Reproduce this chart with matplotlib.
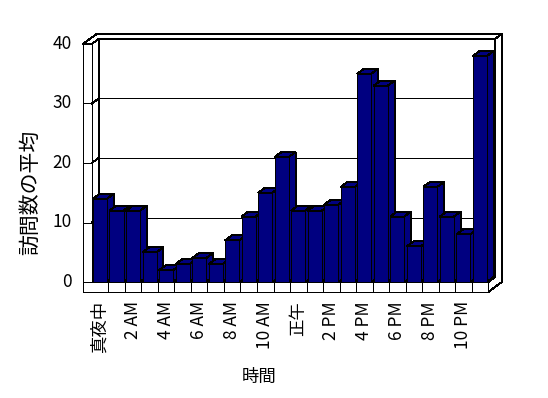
import matplotlib.pyplot as plt
from matplotlib.patches import Polygon

plt.rcParams['font.family'] = ['Noto Sans CJK JP', 'DejaVu Sans']

# data
visits = [14, 12, 12, 5, 2, 3, 4, 3, 7, 11, 15, 21,
          12, 12, 13, 16, 35, 33, 11, 6, 16, 11, 8, 38]
hour_labels = ['真夜中', '2 AM', '4 AM', '6 AM', '8 AM', '10 AM',
               '正午', '2 PM', '4 PM', '6 PM', '8 PM', '10 PM']
value_ticks = [0, 10, 20, 30, 40]
y_title = '訪問数の平均'
x_title = '時間'

BAR = '#000080'
W, H = 548, 398
fig = plt.figure(figsize=(W / 100, H / 100), dpi=100)
ax = fig.add_axes([0, 0, 1, 1])

# one category = 16.52 px, one unit of value = 5.95 px, origin of front plane at (91.8, 282)
x0_px, cat_px = 91.8, 16.52
y0_px, unit_px = 282.0, 5.95
ax.set_xlim(-x0_px / cat_px, (W - x0_px) / cat_px)
ax.set_ylim((y0_px - H) / unit_px, y0_px / unit_px)
ax.axis('off')

# oblique depth offset per depth unit
DX = 6.8 / cat_px
DY = 5.0 / unit_px

n = len(visits)
top = value_ticks[-1]
xl = (83 - x0_px) / cat_px       # outer edge of left wall
fb = -10.0 / unit_px             # bottom of floor slab
LW = 0.72


def P(x, y, z):
    return (x + DX * z, y + DY * z)


def face(pts, fc='white', z=1):
    ax.add_patch(Polygon([P(*p) for p in pts], closed=True, facecolor=fc,
                         edgecolor='black', lw=LW, zorder=z, antialiased=False))


def line(a, b, z=2):
    (x1, y1), (x2, y2) = P(*a), P(*b)
    ax.plot([x1, x2], [y1, y2], color='black', lw=LW, zorder=z, antialiased=False)


# walls and floor
face([(0, 0, 1), (n, 0, 1), (n, top, 1), (0, top, 1)])                      # back wall inner
face([(0, 0, 0), (0, top, 0), (0, top, 1), (0, 0, 1)])                      # left wall inner
face([(0, 0, 0), (n, 0, 0), (n, 0, 1), (0, 0, 1)])                          # floor top
face([(xl, top, 0), (0, top, 0), (0, top, 1), (n, top, 1),
      (n, top, 2), (xl, top, 2)])                                           # top edges
face([(n, fb, 0), (n, 0, 0), (n, 0, 1), (n, top, 1),
      (n, top, 2), (n, fb, 2)])                                             # right side
face([(xl, fb, 0), (xl, top, 0), (0, top, 0), (0, 0, 0),
      (n, 0, 0), (n, fb, 0)])                                               # front slabs

for v in value_ticks[1:-1]:
    line((0, v, 1), (n, v, 1))
    line((0, v, 0), (0, v, 1))
for v in value_ticks:
    line((xl, v, 0), (0, v, 0))
for i in range(1, n):
    line((i, fb, 0), (i, 0, 0))

# bars
off, bw = 0.07, 0.85
for i, v in enumerate(visits):
    x1, x2 = i + off, i + off + bw
    zo = 3 + i
    face([(x2, 0, 0), (x2, v, 0), (x2, v, 1), (x2, 0, 1)], BAR, zo)
    face([(x1, v, 0), (x2, v, 0), (x2, v, 1), (x1, v, 1)], BAR, zo)
    face([(x1, 0, 0), (x2, 0, 0), (x2, v, 0), (x1, v, 0)], BAR, zo)

# labels
fs = 12.5
for v in value_ticks:
    ax.text((72 - x0_px) / cat_px, v, str(v), ha='right', va='center', fontsize=fs)
for k, lab in enumerate(hour_labels):
    ax.text(2 * k + 0.5, (y0_px - 301) / unit_px, lab, rotation=90,
            ha='center', va='top', fontsize=fs)
ax.text((30 - x0_px) / cat_px, (y0_px - 192) / unit_px, y_title, rotation=90,
        ha='center', va='center', fontsize=15)
ax.text((259 - x0_px) / cat_px, (y0_px - 377) / unit_px, x_title,
        ha='center', va='center', fontsize=fs)

fig.savefig('out.png', dpi=100)
